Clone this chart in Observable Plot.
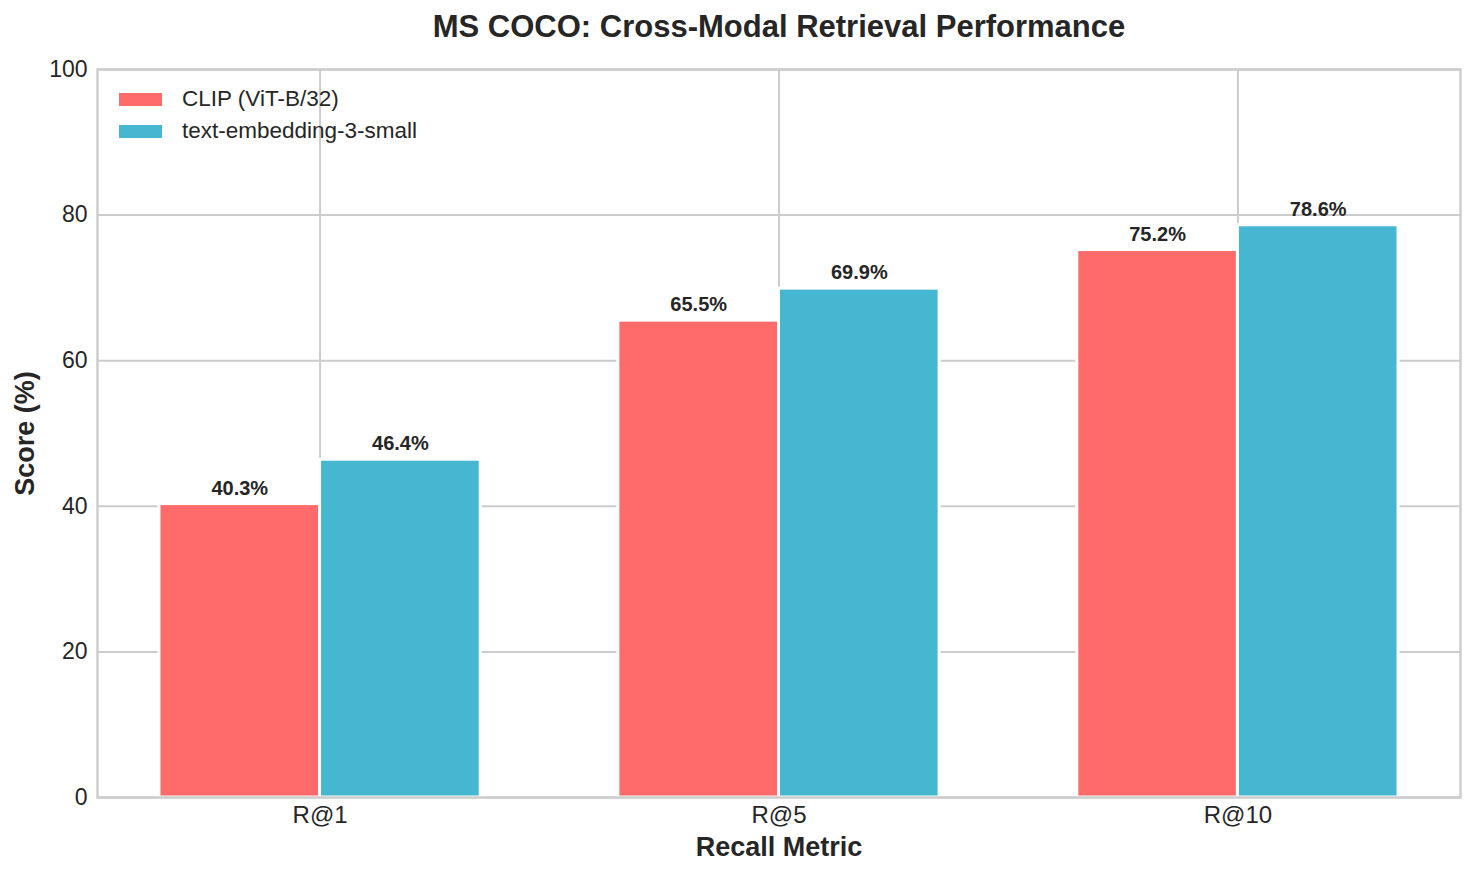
<!DOCTYPE html>
<html>
<head>
<meta charset="utf-8">
<script src="https://cdn.jsdelivr.net/npm/d3@7"></script>
<script src="https://cdn.jsdelivr.net/npm/@observablehq/plot@0.6"></script>
<style>
  html, body { margin: 0; padding: 0; background: #ffffff; }
  #wrap { position: relative; width: 1475px; height: 875px; font-family: "Liberation Sans", Arial, sans-serif; }
  #legend { position: absolute; left: 119px; top: 83px; color: #262626; font-size: 22.5px; }
  .row { display: flex; align-items: center; height: 32px; }
  .sw { width: 43px; height: 13px; margin-right: 20px; }
</style>
</head>
<body>
<div id="wrap"></div>
<script>
const metrics = ["R@1", "R@5", "R@10"];
const models = ["CLIP (ViT-B/32)", "text-embedding-3-small"];
const clipScores = [40.3, 65.5, 75.2];
const textEmbeddingScores = [46.4, 69.9, 78.6];
const colors = ["#FF6B6B", "#45B7D1"];
const yTicks = [0, 20, 40, 60, 80, 100];

const barWidth = 0.35;
const series = [clipScores, textEmbeddingScores];
const bars = [];
series.forEach((vals, m) => {
  vals.forEach((v, i) => {
    const c = i + (m === 0 ? -barWidth / 2 : barWidth / 2);
    bars.push({metric: metrics[i], model: models[m], value: v, x1: c - barWidth / 2, x2: c + barWidth / 2, xc: c, color: colors[m]});
  });
});
const idx = metrics.map((d, i) => i);

const font = "Liberation Sans, Arial, sans-serif";
const chart = Plot.plot({
  width: 1475,
  height: 875,
  marginLeft: 97,
  marginRight: 15,
  marginTop: 69,
  marginBottom: 78,
  style: {fontFamily: font, color: "#262626", background: "#ffffff"},
  x: {type: "linear", domain: [-0.485, 2.485], axis: null},
  y: {domain: [0, 100], axis: null},
  marks: [
    Plot.ruleY(yTicks, {y: d => d, stroke: "#cccccc", strokeWidth: 2}),
    Plot.ruleX(idx, {x: d => d, stroke: "#cccccc", strokeWidth: 2}),
    Plot.rectY(bars, {x1: "x1", x2: "x2", y1: 0, y2: "value", fill: "color", stroke: "#ffffff", strokeWidth: 3}),
    Plot.frame({stroke: "#cccccc", strokeWidth: 2.4}),
    Plot.text(bars, {x: "xc", y: "value", text: d => d.value.toFixed(1) + "%", dy: -9.5, lineAnchor: "bottom", fontSize: 20, fontWeight: "bold", fill: "#262626"}),
    Plot.axisY(yTicks, {tickSize: 0, tickPadding: 10, fontSize: 23, label: null, tickFormat: d => String(d)}),
    Plot.axisX(idx, {tickSize: 0, tickPadding: 8, fontSize: 24, label: null, tickFormat: i => metrics[i]}),
    Plot.text(["MS COCO: Cross-Modal Retrieval Performance"], {frameAnchor: "top", dy: -33, lineAnchor: "bottom", fontSize: 31, fontWeight: "bold", fill: "#262626"}),
    Plot.text(["Recall Metric"], {frameAnchor: "bottom", dy: 58, lineAnchor: "bottom", fontSize: 27, fontWeight: "bold", fill: "#262626"}),
    Plot.text(["Score (%)"], {frameAnchor: "left", textAnchor: "middle", dx: -64, rotate: -90, lineAnchor: "bottom", fontSize: 27, fontWeight: "bold", fill: "#262626"})
  ]
});
const wrap = document.getElementById("wrap");
wrap.appendChild(chart);

const legend = document.createElement("div");
legend.id = "legend";
models.forEach((m, i) => {
  const row = document.createElement("div");
  row.className = "row";
  const sw = document.createElement("div");
  sw.className = "sw";
  sw.style.background = colors[i];
  const t = document.createElement("span");
  t.textContent = m;
  row.appendChild(sw);
  row.appendChild(t);
  legend.appendChild(row);
});
wrap.appendChild(legend);
</script>
</body>
</html>
